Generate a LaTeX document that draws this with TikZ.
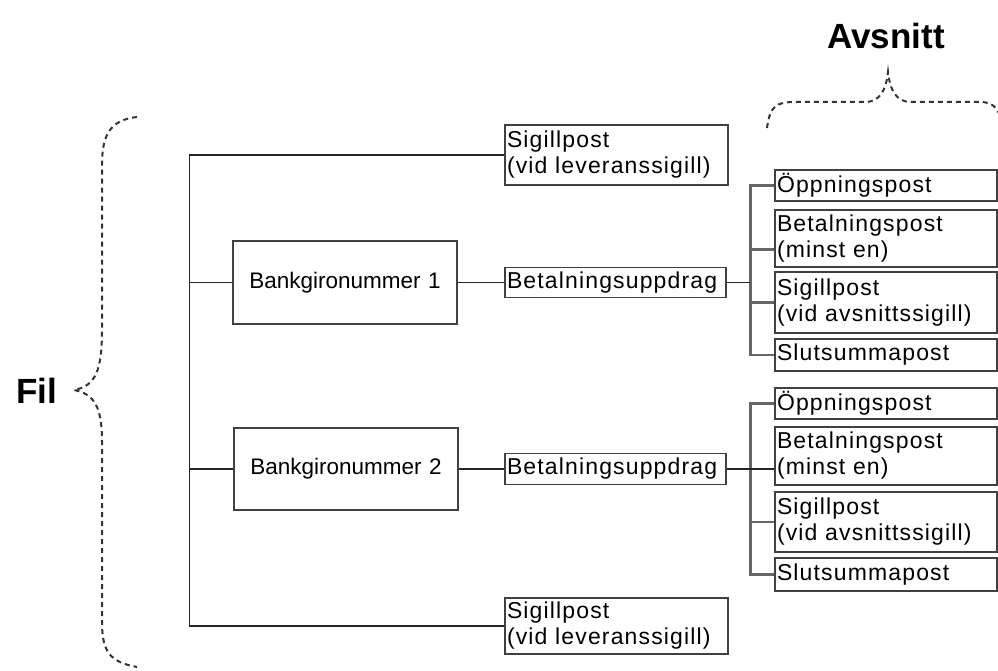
\documentclass[tikz,border=0pt]{standalone}
\usepackage{fontspec}
\setmainfont{Liberation Sans}
\newfontfamily\boxfont[LetterSpace=5]{Liberation Sans}
\usetikzlibrary{calc}
\begin{document}
\begin{tikzpicture}[x=1pt,y=-1pt,
 box/.style={draw=black!75, line width=1.5pt, fill=white, inner xsep=2pt, inner ysep=0pt, align=left, font=\boxfont\fontsize{23}{26}\selectfont, anchor=center},
 bx/.style n args={3}{box, minimum width=#1pt, minimum height=#2pt, text width=#3pt},
 bgbox/.style={align=center, font=\rmfamily\fontsize{22.5}{26}\selectfont},
 conn/.style={draw=black!85, line width=1.5pt},
 sub/.style={draw=black!60, line width=2.5pt},
 brace/.style={draw=black!80, line width=2pt, dash pattern=on 5pt off 4pt},
 big/.style={font=\bfseries\fontsize{35}{38}\selectfont}]
\useasboundingbox (0,0) rectangle (998,671);

% labels
\node[big] (fil) at (37,391) {Fil};
\node[big] (avs) at (886,36) {Avsnitt};

% braces
\draw[brace] (137,117) .. controls (110,120) and (102,135) .. (102,165) -- (102,330)
  .. controls (102,372) and (95,386) .. (74,390)
  .. controls (95,394) and (102,408) .. (102,442) -- (102,622)
  .. controls (102,652) and (110,662) .. (137,667);
\draw[brace] (767,128) .. controls (770,106) and (776,102) .. (795,102) -- (865,102)
  .. controls (880,102) and (886,90) .. (888,72)
  .. controls (890,90) and (896,102) .. (911,102) -- (980,102)
  .. controls (995,102) and (999,110) .. (1003,125);

% level 1
\node[bx={223}{60}{219}] (sig1) at (616.5,155) {Sigillpost\\(vid leveranssigill)};
\node[bx={224}{83}{220}, bgbox] (bg1) at (345,282.5) {Bankgironummer 1};
\node[bx={224}{82}{220}, bgbox] (bg2) at (346,469) {Bankgironummer 2};
\node[bx={223}{56}{219}] (sig2) at (616.5,626) {Sigillpost\\(vid leveranssigill)};

% level 2
\node[bx={221}{30}{217}] (bu1) at (615.5,282.5) {Betalningsuppdrag};
\node[bx={221}{31}{217}] (bu2) at (615.5,469) {Betalningsuppdrag};

% section 1
\node[bx={222}{31}{218}] (o1) at (886,185.5) {Öppningspost};
\node[bx={222}{57}{218}] (b1) at (886,238.5) {Betalningspost\\(minst en)};
\node[bx={222}{61}{218}] (sp1) at (886,302.5) {Sigillpost\\(vid avsnittssigill)};
\node[bx={222}{32}{218}] (e1) at (886,355) {Slutsummapost};

% section 2
\node[bx={222}{31}{218}] (o2) at (886,403.5) {Öppningspost};
\node[bx={222}{58}{218}] (b2) at (886,456) {Betalningspost\\(minst en)};
\node[bx={222}{60}{218}] (sp2) at (886,522) {Sigillpost\\(vid avsnittssigill)};
\node[bx={222}{33}{218}] (e2) at (886,574.5) {Slutsummapost};

% main trunk
\path (sig1.west) ++(-315,0) coordinate (ttop);
\path (sig2.west) ++(-315,0) coordinate (tbot);
\draw[conn] (sig1.west) -- (ttop) -- (tbot) -- (sig2.west);
\draw[conn] (bg1.west) -- (bg1.west -| ttop);
\draw[conn] (bg2.west) -- (bg2.west -| ttop);
\draw[conn] (bg1.east) -- (bu1.west);
\draw[conn] (bg2.east) -- (bu2.west);

% sub trunk 1
\path (o1.west) ++(-24,0) coordinate (s1top);
\path (e1.west) ++(-24,0) coordinate (s1bot);
\coordinate (b1in) at ($(b1.north west)!0.69!(b1.south west)$);
\draw[sub] (o1.west) -- (s1top) -- (s1bot) -- (e1.west);
\draw[sub] (b1in) -- (b1in -| s1top);
\draw[sub] (sp1.west) -- (sp1.west -| s1top);
\draw[conn] (bu1.east) -- (bu1.east -| s1top);

% sub trunk 2
\path (o2.west) ++(-24,0) coordinate (s2top);
\path (e2.west) ++(-24,0) coordinate (s2bot);
\draw[sub] (o2.west) -- (s2top) -- (s2bot) -- (e2.west);
\draw[sub] (sp2.west) -- (sp2.west -| s2top);
\draw[conn, line width=2.5pt] (bu2.east) -- (bu2.east -| b2.west);
\end{tikzpicture}
\end{document}
